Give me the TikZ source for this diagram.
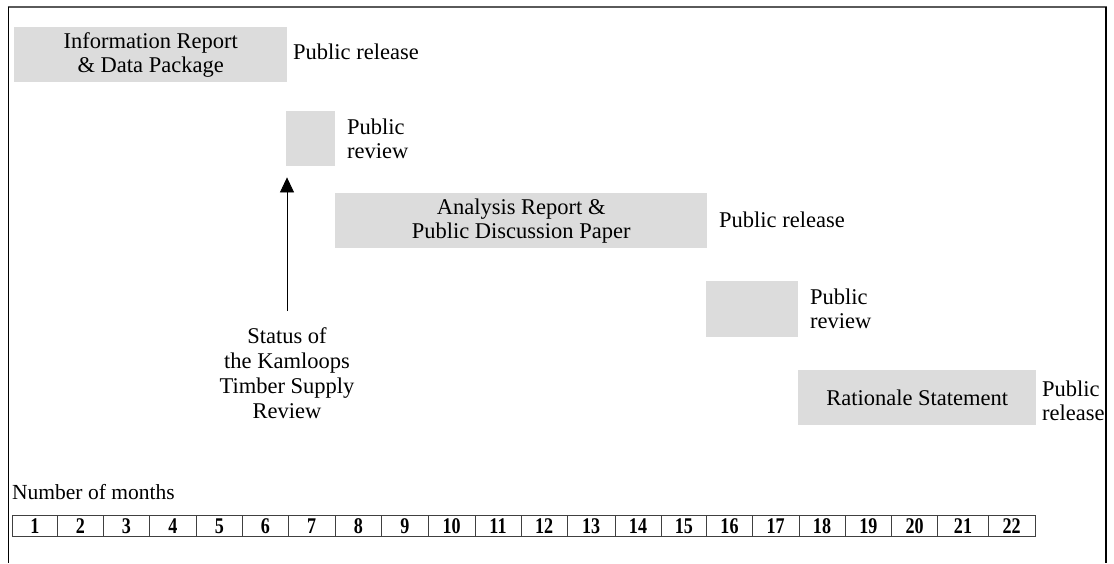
\documentclass[tikz,border=0pt]{standalone}
\usepackage{fontspec}
\setmainfont{Liberation Serif}
\usetikzlibrary{arrows.meta}
\definecolor{phasegray}{HTML}{DCDCDC}
\definecolor{framegray}{HTML}{5A5A5A}

\begin{document}
\begin{tikzpicture}[x=1pt, y=-1pt,
    phase/.style={fill=phasegray, anchor=north west, inner sep=0pt, minimum height=55pt, align=center, font=\fontsize{22.5}{24}\selectfont},
    note/.style={anchor=west, align=left, inner sep=0pt, font=\fontsize{22.5}{24.5}\selectfont},
    month/.style={draw=black!75, line width=0.8pt, inner sep=0pt, minimum height=21pt, font=\fontsize{19}{19}\selectfont\bfseries}]
  \useasboundingbox (0,0) rectangle (1114,563);
  % frame
  \draw[framegray, line width=2pt] (7.5,7) -- (1107,7);
  \draw[line width=1.5pt] (8.5,7) -- (8.5,563);
  \draw[line width=1.5pt] (1106,7) -- (1106,563);
  % phases
  \node[phase, minimum width=273pt] (info) at (14,27) {Information Report\\\& Data Package};
  \node[phase, minimum width=49pt] (review1) at (286,111) {};
  \node[phase, minimum width=372pt] (analysis) at (335,193) {Analysis Report \&\\Public Discussion Paper};
  \node[phase, minimum width=92pt, minimum height=56pt] (review2) at (706,281) {};
  \node[phase, minimum width=238pt] (rationale) at (798,370) {Rationale Statement};
  % notes
  \node[note] (release1) at (293,52) {Public release};
  \node[note] (reviewtxt1) at (347,139) {Public\\review};
  \node[note] (release2) at (719,220) {Public release};
  \node[note] (reviewtxt2) at (810,309) {Public\\review};
  \node[note] (release3) at (1042,401) {Public\\release};
  \node[align=center, anchor=north, inner sep=0pt, font=\fontsize{22.5}{25.3}\selectfont] (status) at (287,327) {Status of\\the Kamloops\\Timber Supply\\Review};
  \draw[-{Triangle[width=14pt,length=15pt]}, line width=0.8pt, shorten <=16pt, shorten >=11pt] (status.north) -- (status.north |- review1.south);
  % months
  \node[anchor=west, inner sep=0pt, font=\fontsize{21.5}{24}\selectfont] (months) at (12,492) {Number of months};
  \foreach \m/\xa/\xb in {1/12.3/57.3, 2/57.3/103.3, 3/103.3/149.3, 4/149.3/196.7, 5/196.7/242.3, 6/242.3/288.3, 7/288.3/335, 8/335/381.7, 9/381.7/428.3, 10/428.3/475, 11/475/521, 12/521/567.3, 13/567.3/615, 14/615/661, 15/661/706.7, 16/706.7/752.3, 17/752.3/799, 18/799/845, 19/845/891.7, 20/891.7/937.7, 21/937.7/988.3, 22/988.3/1035} {
    \pgfmathsetmacro\cellw{\xb-\xa}
    \pgfmathsetmacro\cellx{(\xa+\xb)/2}
    \node[month, minimum width=\cellw pt] (m\m) at (\cellx,526.3) {\scalebox{0.95}[1.18]{\m}};
  }
\end{tikzpicture}
\end{document}
